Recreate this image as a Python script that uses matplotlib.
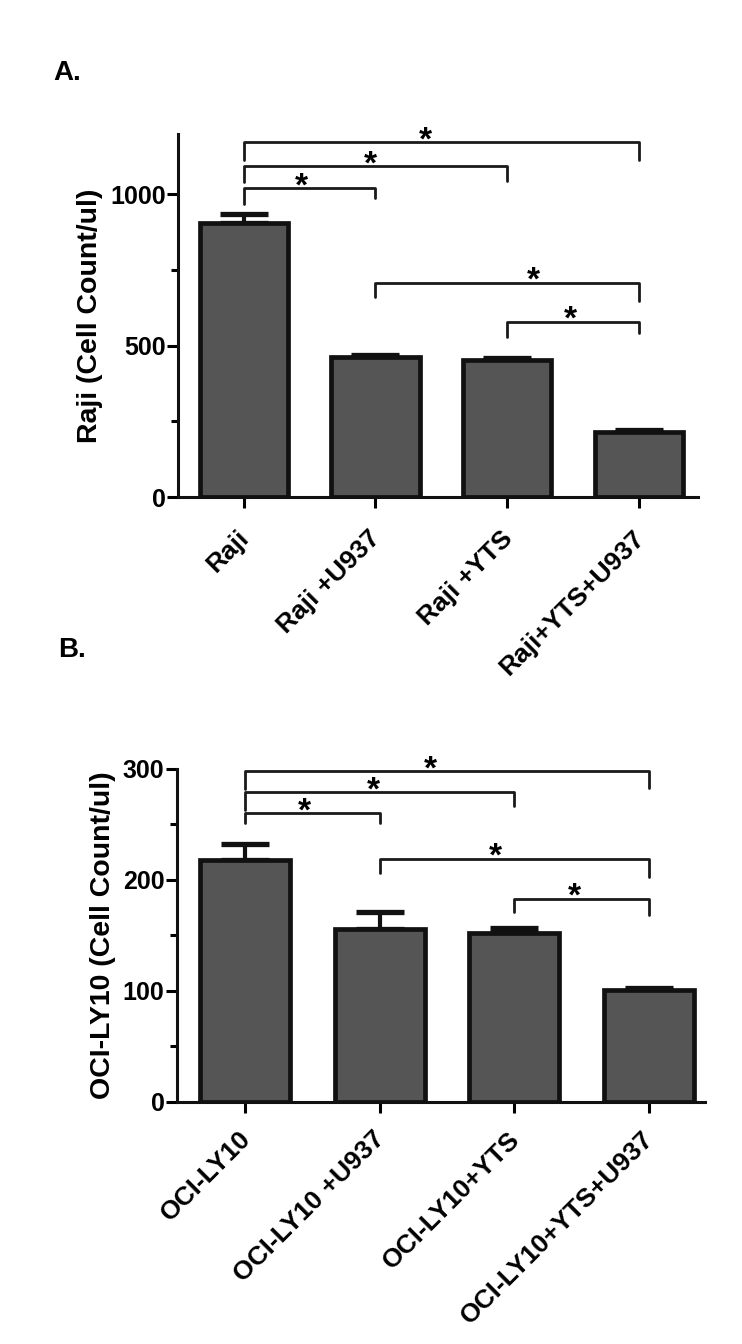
import numpy as np
import matplotlib
matplotlib.use("Agg")
import matplotlib.pyplot as plt
from matplotlib.ticker import MultipleLocator
from matplotlib.transforms import ScaledTranslation

plt.rcParams['font.family'] = ['Liberation Sans', 'DejaVu Sans']
plt.rcParams['font.weight'] = 'bold'

# data, panel A
raji_groups = ['Raji', 'Raji +U937', 'Raji +YTS', 'Raji+YTS+U937']
raji_mean = [905, 464, 452, 215]
raji_err = [30, 6, 9, 6]

# data, panel B
oci_groups = ['OCI-LY10', 'OCI-LY10 +U937', 'OCI-LY10+YTS', 'OCI-LY10+YTS+U937']
oci_mean = [218, 156, 152, 101]
oci_err = [14, 15, 5, 2]

# significance brackets: (left bar, right bar, height, left leg end, right leg end, star x)
raji_sig = [(0, 1, 1020, 967, 987, 0.44),
            (0, 2, 1093, 1040, 1046, 0.96),
            (0, 3, 1172, 1115, 1113, 1.38),
            (1, 3, 709, 662, 649, 2.2),
            (2, 3, 579, 530, 543, 2.48)]
oci_sig = [(0, 1, 260, 251, 251, 0.44),
           (0, 2, 279, 263, 267, 0.95),
           (0, 3, 298, 282, 283, 1.38),
           (1, 3, 219, 206, 203, 1.86),
           (2, 3, 183, 171, 168, 2.45)]

fig = plt.figure(figsize=(7.42, 13.44), dpi=100)
axA = fig.add_axes([0.2399, 0.6302, 0.7008, 0.2701])
axB = fig.add_axes([0.2385, 0.1801, 0.7116, 0.2478])


def draw_panel(ax, groups, mean, err, sig, ymax, major, minor, ylabel, xlim, xpad):
    x = np.arange(len(groups))
    ax.bar(x, mean, width=0.67, color='#555555', edgecolor='#111111', linewidth=3.4, zorder=2)
    ax.errorbar(x, mean, yerr=[np.zeros(len(err)), err], fmt='none', ecolor='#111111',
                elinewidth=3, capsize=17, capthick=3.8, zorder=1)
    ax.set_xlim(*xlim)
    ax.set_ylim(0, ymax)
    ax.spines['top'].set_visible(False)
    ax.spines['right'].set_visible(False)
    for s in ['left', 'bottom']:
        ax.spines[s].set_linewidth(2.2)
        ax.spines[s].set_color('#111111')
    ax.yaxis.set_major_locator(MultipleLocator(major))
    ax.yaxis.set_minor_locator(MultipleLocator(minor))
    ax.tick_params(axis='y', which='major', length=8, width=2.2, labelsize=18, pad=1)
    ax.tick_params(axis='y', which='minor', length=5, width=2.2)
    ax.tick_params(axis='x', which='major', length=8, width=2.2, labelsize=19, pad=xpad)
    ax.set_xticks(x)
    ax.set_xticklabels(groups, rotation=45, ha='right', va='top', rotation_mode='anchor')
    shift = ScaledTranslation(-5 / 72, 0, fig.dpi_scale_trans)
    for lab in ax.get_xticklabels():
        lab.set_transform(lab.get_transform() + shift)
    for lab in ax.get_yticklabels() + ax.get_xticklabels():
        lab.set_fontweight('bold')
    ax.set_ylabel(ylabel, fontsize=20.5, fontweight='bold', labelpad=5)
    for a, b, h, la, rb, sx in sig:
        ax.plot([a, a, b, b], [la, h, h, rb], color='#1a1a1a', lw=2,
                solid_joinstyle='round', solid_capstyle='round', clip_on=False, zorder=3)
        ax.annotate('*', (sx, h), xytext=(0, 1), textcoords='offset points',
                    ha='center', va='center', fontsize=24, fontweight='bold',
                    annotation_clip=False)


draw_panel(axA, raji_groups, raji_mean, raji_err, raji_sig, 1200, 500, 250,
           'Raji (Cell Count/ul)', (-0.5, 3.45), 13)
draw_panel(axB, oci_groups, oci_mean, oci_err, oci_sig, 300, 100, 50,
           'OCI-LY10 (Cell Count/ul)', (-0.51, 3.42), 10)

fig.text(53 / 742, 1 - 73 / 1344, 'A.', fontsize=20, fontweight='bold', va='center')
fig.text(58 / 742, 1 - 650 / 1344, 'B.', fontsize=20, fontweight='bold', va='center')

fig.savefig('out.png', dpi=100)
